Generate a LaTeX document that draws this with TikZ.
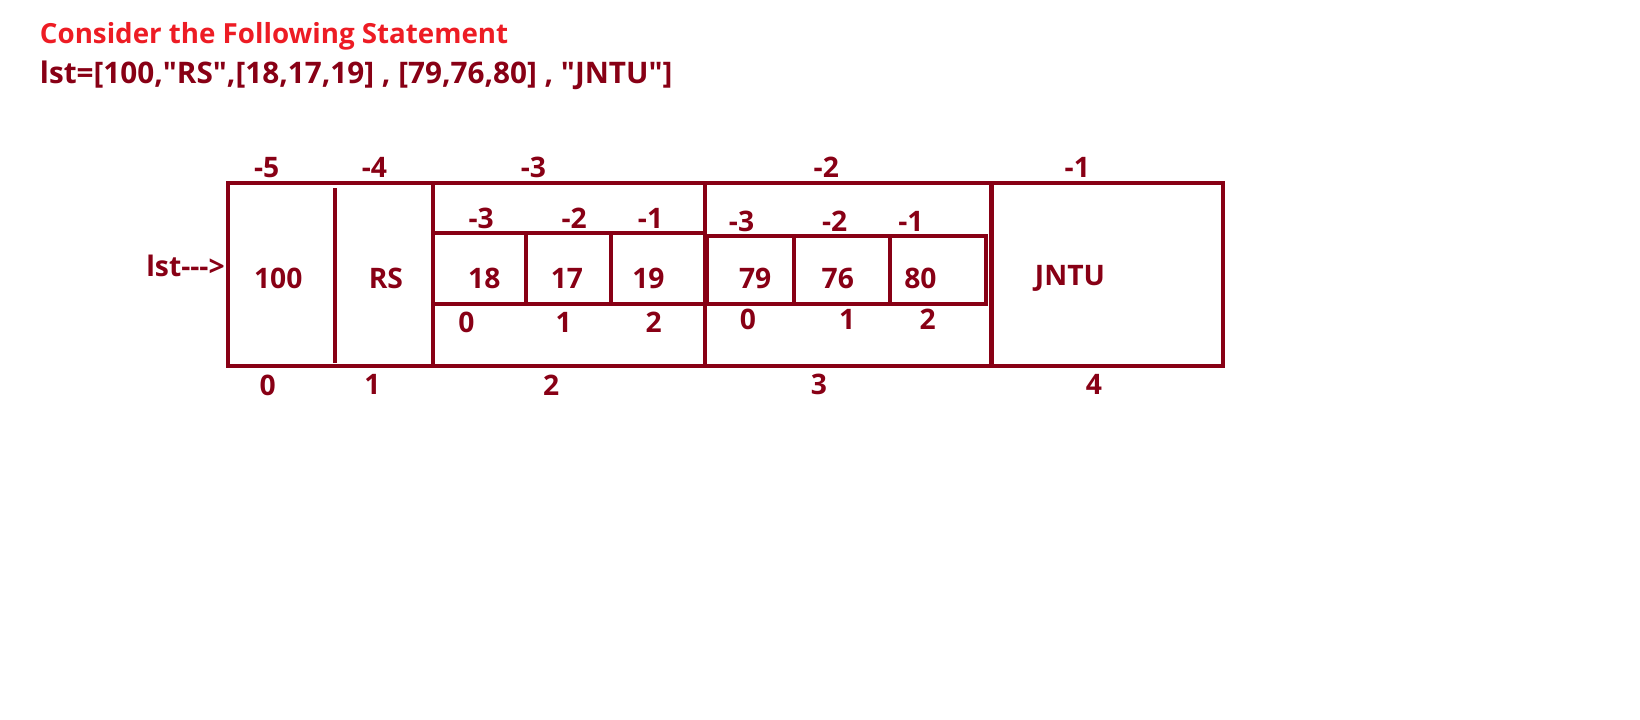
\documentclass[tikz,border=0pt]{standalone}
\usepackage{fontspec}
\setmainfont{Open Sans}[Ligatures=TeXOff]
\usepackage{tikz}
\definecolor{darkred}{HTML}{880015}
\definecolor{titlered}{HTML}{ED1C24}

\begin{document}
\begin{tikzpicture}[
    x=1pt, y=-1pt,
    cell/.style={draw=darkred, line width=4pt},
    txt/.style={text=darkred, font=\bfseries\fontsize{27}{31}\selectfont, inner sep=0pt},
    head/.style={txt, text=titlered, anchor=base west, font=\bfseries\fontsize{26.5}{30}\selectfont}
]
\useasboundingbox (0,0) rectangle (1568,688);

\node[head] (title) at (38,42) {Consider the Following Statement};
\node[txt, anchor=base west, font=\bfseries\fontsize{28.4}{32}\selectfont] (stmt) at (38,80) {lst=[100,"RS",[18,17,19] , [79,76,80] , "JNTU"]};

% outer list
\draw[cell] (218,175) rectangle (1169,350);
\draw[cell] (320,180) -- (320,347);
\draw[cell] (414,175) -- (414,350);
\draw[cell] (674,175) -- (674,350);
\draw[cell] (948,175) -- (948,350);

% inner lists
\draw[cell] (414,223) rectangle (674,291);
\draw[cell] (503,221) -- (503,291);
\draw[cell] (584,223) -- (584,291);
\draw[cell] (676,226) rectangle (943,291);
\draw[cell] (759,226) -- (759,291);
\draw[cell] (851,226) -- (851,291);

\node[txt, anchor=east] (lst) at (215,254) {lst--->};

% values
\node[txt] (v100) at (266,266) {100};
\node[txt] (vrs) at (369,266) {RS};
\node[txt] (v18) at (463,266) {18};
\node[txt] (v17) at (542,266) {17};
\node[txt] (v19) at (620,266) {19};
\node[txt] (v79) at (722,266) {79};
\node[txt] (v76) at (801,266) {76};
\node[txt] (v80) at (880,266) {80};
\node[txt] (vjntu) at (1023,266) {JNTU};

% negative indices
\node[txt] (n5) at (255,160) {-5};
\node[txt] (n4) at (358,160) {-4};
\node[txt] (n3) at (510,160) {-3};
\node[txt] (n2) at (790,160) {-2};
\node[txt] (n1) at (1030,160) {-1};
\node[txt] (an3) at (460,209) {-3};
\node[txt] (an2) at (549,209) {-2};
\node[txt] (an1) at (622,209) {-1};
\node[txt] (bn3) at (709,212) {-3};
\node[txt] (bn2) at (798,212) {-2};
\node[txt] (bn1) at (871,212) {-1};

% positive indices
\node[txt] (p0) at (256,368) {0};
\node[txt] (p1) at (356,368) {1};
\node[txt] (p2) at (527,368) {2};
\node[txt] (p3) at (783,368) {3};
\node[txt] (p4) at (1046,368) {4};
\node[txt] (a0) at (446,308) {0};
\node[txt] (a1) at (539,308) {1};
\node[txt] (a2) at (625,308) {2};
\node[txt] (b0) at (715,305) {0};
\node[txt] (b1) at (810,305) {1};
\node[txt] (b2) at (887,305) {2};

\end{tikzpicture}
\end{document}
